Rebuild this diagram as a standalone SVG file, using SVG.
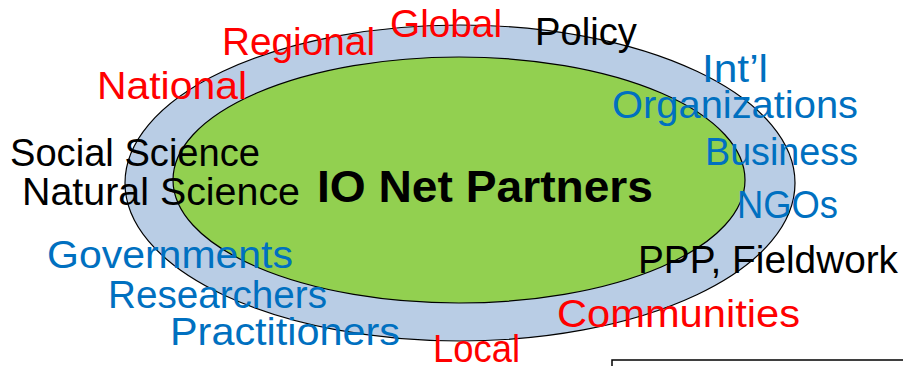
<svg xmlns="http://www.w3.org/2000/svg" width="903" height="366" viewBox="0 0 903 366">
<style>
.t{font-family:"Liberation Sans","Open Sans",Arial,sans-serif;font-size:38px}
.r{fill:#ff0000}.b{fill:#0070c0}.k{fill:#000}
.bold{font-weight:bold;font-size:45px}
</style>
<rect x="0" y="0" width="903" height="366" fill="#fff"/>
<g id="outer"><ellipse cx="460" cy="183" rx="335" ry="158" fill="#b9cde5" stroke="#000" stroke-width="1.2"/></g>
<g id="inner"><ellipse cx="459" cy="180" rx="286" ry="123" fill="#92d050" stroke="#000" stroke-width="1.2"/></g>
<g id="box"><rect x="612" y="360" width="300" height="20" fill="#fff" stroke="#000" stroke-width="1.5"/></g>
<g id="labels">
<text class="t r" x="390" y="37" textLength="112" lengthAdjust="spacingAndGlyphs">Global</text>
<text class="t r" x="222" y="55" textLength="153" lengthAdjust="spacingAndGlyphs">Regional</text>
<text class="t r" x="97" y="99" textLength="150" lengthAdjust="spacingAndGlyphs">National</text>
<text class="t k" x="535" y="45" textLength="102" lengthAdjust="spacingAndGlyphs">Policy</text>
<text class="t b" x="702" y="82" textLength="66" lengthAdjust="spacingAndGlyphs">Int’l</text>
<text class="t b" x="612" y="118" textLength="246" lengthAdjust="spacingAndGlyphs">Organizations</text>
<text class="t b" x="705" y="165" textLength="153" lengthAdjust="spacingAndGlyphs">Business</text>
<text class="t b" x="737" y="218" textLength="101" lengthAdjust="spacingAndGlyphs">NGOs</text>
<text class="t k" x="638" y="273" textLength="260" lengthAdjust="spacingAndGlyphs">PPP, Fieldwork</text>
<text class="t r" x="557" y="327" textLength="243" lengthAdjust="spacingAndGlyphs">Communities</text>
<text class="t r" x="433" y="362" textLength="87" lengthAdjust="spacingAndGlyphs">Local</text>
<text class="t k" x="10" y="166" textLength="250" lengthAdjust="spacingAndGlyphs">Social Science</text>
<text class="t k" x="22" y="205" textLength="278" lengthAdjust="spacingAndGlyphs">Natural Science</text>
<text class="t k bold" x="317" y="202" textLength="336" lengthAdjust="spacingAndGlyphs">IO Net Partners</text>
<text class="t b" x="47" y="268" textLength="246" lengthAdjust="spacingAndGlyphs">Governments</text>
<text class="t b" x="108" y="308" textLength="219" lengthAdjust="spacingAndGlyphs">Researchers</text>
<text class="t b" x="170" y="345" textLength="230" lengthAdjust="spacingAndGlyphs">Practitioners</text>
</g>
</svg>
